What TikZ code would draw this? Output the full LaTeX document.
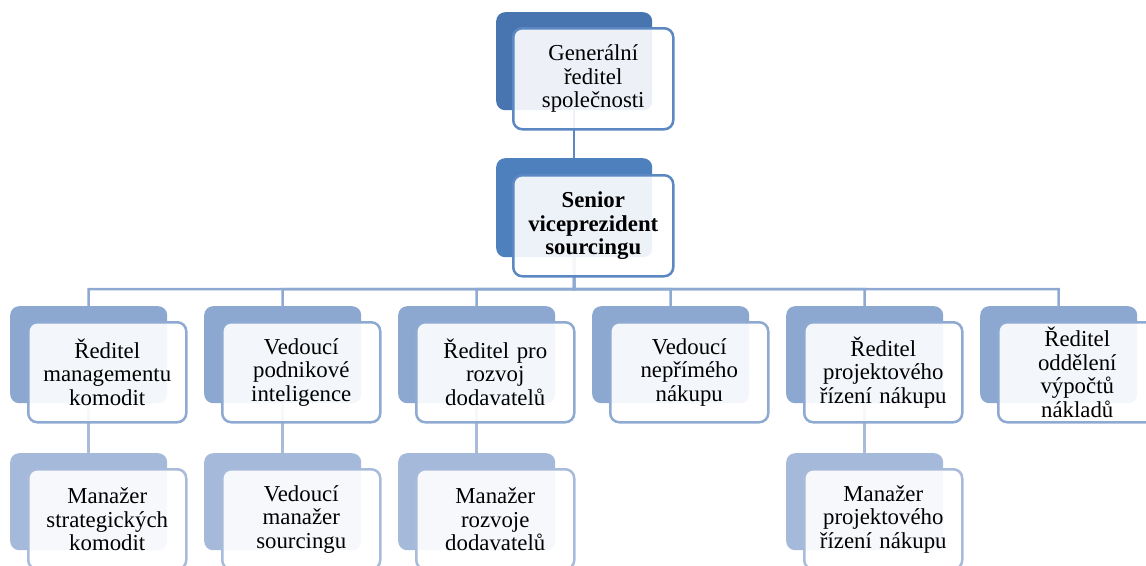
\documentclass[tikz,border=0pt]{standalone}
\usepackage{fontspec}
\setmainfont{Liberation Serif}
\definecolor{backA}{HTML}{4874B0}
\definecolor{backB}{HTML}{4F80BE}
\definecolor{lineA}{HTML}{5B87C2}
\definecolor{backC}{HTML}{8DA8D0}
\definecolor{lineC}{HTML}{8FAAD2}
\definecolor{backD}{HTML}{A5B9DB}
\definecolor{lineD}{HTML}{A8BBDB}
\tikzset{
  back/.style={rectangle, rounded corners=9pt, draw=none, inner sep=0pt, anchor=north west, minimum width=157pt, minimum height=97pt},
  front/.style={rectangle, rounded corners=9pt, line width=2.5pt, fill=white, fill opacity=0.9, text opacity=1, inner sep=0pt, anchor=north west, minimum width=158pt, minimum height=100pt, text width=152pt, align=center, font=\fontsize{22.8}{23.4}\selectfont},
  backone/.style={back, fill=backA, minimum width=156pt, minimum height=98pt},
  backtwo/.style={back, fill=backB, minimum width=156pt, minimum height=99pt},
  frontone/.style={front, draw=lineA, minimum width=160pt, minimum height=101pt},
  backthree/.style={back, fill=backC},
  frontthree/.style={front, draw=lineC},
  backfour/.style={back, fill=backD},
  frontfour/.style={front, draw=lineD},
  connA/.style={draw=lineA, line width=2.5pt},
  connC/.style={draw=lineC, line width=2.5pt},
  connD/.style={draw=lineD, line width=2.5pt},
}
\begin{document}
\begin{tikzpicture}[x=1pt,y=-1pt]
\useasboundingbox (0,0) rectangle (1146,565);
\clip (0,0) rectangle (1146,565);
% back shapes
\path
  (496,12) node[backone] (b1) {}
  (496,158) node[backtwo] (b2) {}
  (10,306) node[backthree] (b3a) {}
  (204,306) node[backthree] (b3b) {}
  (398,306) node[backthree] (b3c) {}
  (592,306) node[backthree] (b3d) {}
  (786,306) node[backthree] (b3e) {}
  (980,306) node[backthree] (b3f) {}
  (10,453) node[backfour] (b4a) {}
  (204,453) node[backfour] (b4b) {}
  (398,453) node[backfour] (b4c) {}
  (786,453) node[backfour] (b4e) {};
\coordinate (bus) at (574,289);
% connectors
\draw[connA] (b1.south) -- (b2.north);
\foreach \c in {b3a,b3b,b3c,b3d,b3e,b3f}{
  \draw[connC] (b2.south) -- (bus) -| (\c.north);
}
\draw[connD] (b3a.south) -- (b4a.north);
\draw[connD] (b3b.south) -- (b4b.north);
\draw[connD] (b3c.south) -- (b4c.north);
\draw[connD] (b3e.south) -- (b4e.north);
% front boxes
\node[frontone] (f1) at (512,27) {Generální\\ředitel\\společnosti};
\node[frontone, font=\fontsize{22.8}{23.4}\selectfont\bfseries] (f2) at (512,174) {Senior\\viceprezident\\sourcingu};
\node[frontthree] (f3a) at (27,321) {Ředitel\\managementu\\komodit};
\node[frontthree] (f3b) at (221,321) {Vedoucí\\podnikové\\inteligence};
\node[frontthree] (f3c) at (415,321) {Ředitel pro\\rozvoj\\dodavatelů};
\node[frontthree] (f3d) at (609,321) {Vedoucí\\nepřímého\\nákupu};
\node[frontthree] (f3e) at (803,321) {Ředitel\\projektového\\řízení nákupu};
\node[frontthree] (f3f) at (997,321) {Ředitel\\oddělení\\výpočtů\\nákladů};
\node[frontfour] (f4a) at (27,468) {Manažer\\strategických\\komodit};
\node[frontfour] (f4b) at (221,468) {Vedoucí\\manažer\\sourcingu};
\node[frontfour] (f4c) at (415,468) {Manažer\\rozvoje\\dodavatelů};
\node[frontfour] (f4e) at (803,468) {Manažer\\projektového\\řízení nákupu};
\end{tikzpicture}
\end{document}
